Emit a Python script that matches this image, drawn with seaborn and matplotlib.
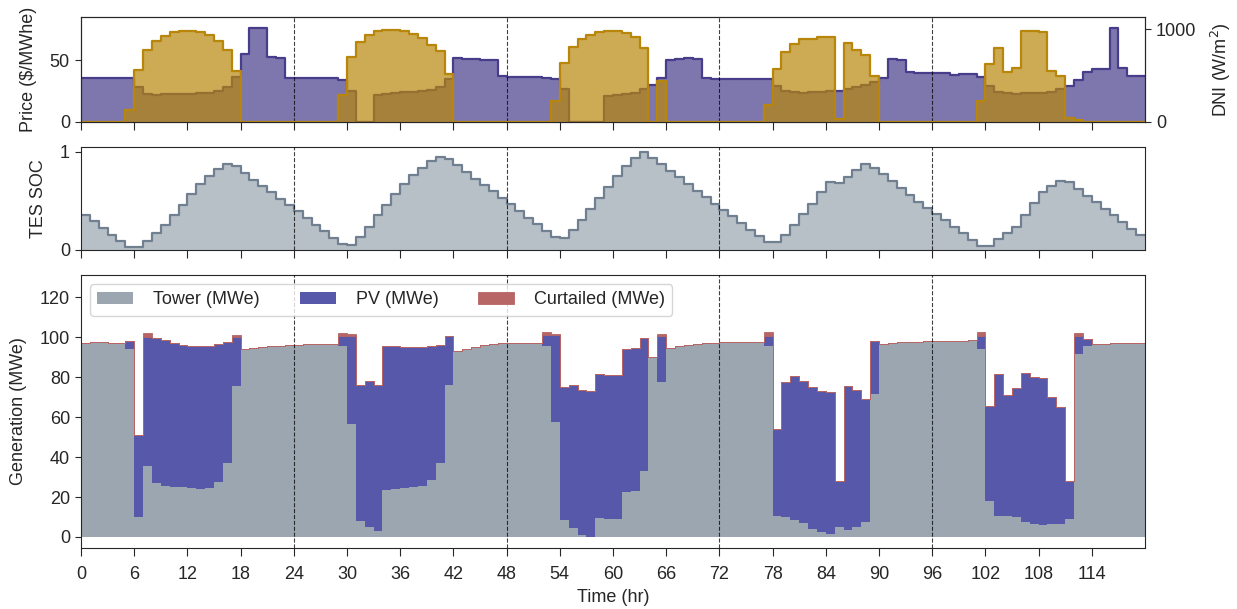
import numpy as np
import matplotlib
matplotlib.use('Agg')
import matplotlib.pyplot as plt
import seaborn as sns

# hourly values (120 h, one row = 12 h)
price = [
    36.0, 36.0, 36.0, 35.5, 35.5, 35.5, 28.5, 22.6, 21.8, 22.3, 22.6, 22.8,
    22.8, 23.1, 23.4, 25.0, 28.5, 36.3, 54.8, 76.0, 76.3, 52.7, 51.6, 35.7,
    35.7, 35.7, 35.7, 35.7, 35.7, 33.9, 25.3, 0.0, 0.0, 21.8, 22.6, 23.1,
    23.9, 24.5, 25.0, 26.0, 28.5, 35.2, 52.1, 51.3, 51.3, 50.0, 50.0, 37.1,
    36.8, 36.6, 36.6, 36.3, 35.5, 35.2, 27.1, 0.0, 0.0, 0.0, 0.0, 21.0,
    21.5, 22.3, 23.7, 26.3, 29.8, 35.7, 50.0, 51.3, 52.1, 50.8, 35.7, 34.7,
    34.7, 34.7, 34.7, 34.7, 34.7, 34.7, 29.3, 25.3, 23.9, 23.7, 24.2, 24.5,
    24.7, 25.0, 27.1, 28.5, 29.8, 32.5, 35.5, 51.3, 50.0, 40.6, 40.0, 39.8,
    39.8, 39.5, 37.9, 39.2, 39.2, 36.6, 29.3, 23.9, 23.1, 22.6, 23.1, 23.7,
    23.7, 24.5, 26.6, 29.3, 33.9, 40.6, 42.5, 42.5, 76.0, 44.0, 37.4, 37.4,
]

dni = [
    0, 0, 0, 0, 0, 128, 564, 770, 872, 929, 972, 982,
    982, 972, 940, 876, 777, 546, 0, 0, 0, 0, 0, 0,
    0, 0, 0, 0, 0, 294, 695, 862, 940, 979, 989, 993,
    982, 943, 908, 830, 766, 518, 0, 0, 0, 0, 0, 0,
    0, 0, 0, 0, 0, 223, 631, 812, 897, 936, 972, 982,
    982, 954, 915, 801, 0, 440, 0, 0, 0, 0, 0, 0,
    0, 0, 0, 0, 0, 188, 567, 755, 844, 897, 897, 915,
    915, 30, 855, 773, 720, 493, 0, 0, 0, 0, 0, 0,
    0, 0, 0, 0, 0, 230, 624, 794, 535, 582, 979, 979,
    968, 553, 500, 46, 21, 0, 0, 0, 0, 0, 0, 0,
]

soc = [
    0.362, 0.293, 0.225, 0.157, 0.096, 0.027, 0.027, 0.089, 0.171, 0.260, 0.362, 0.464,
    0.567, 0.669, 0.754, 0.826, 0.874, 0.860, 0.785, 0.717, 0.655, 0.587, 0.519, 0.461,
    0.396, 0.324, 0.260, 0.198, 0.123, 0.061, 0.051, 0.137, 0.239, 0.352, 0.461, 0.567,
    0.669, 0.761, 0.840, 0.908, 0.952, 0.932, 0.863, 0.795, 0.727, 0.666, 0.597, 0.529,
    0.471, 0.396, 0.328, 0.266, 0.198, 0.137, 0.123, 0.205, 0.307, 0.420, 0.532, 0.642,
    0.757, 0.859, 0.938, 1.000, 0.938, 0.880, 0.808, 0.742, 0.674, 0.605, 0.536, 0.474,
    0.412, 0.344, 0.275, 0.206, 0.141, 0.079, 0.086, 0.155, 0.251, 0.364, 0.474, 0.588,
    0.690, 0.680, 0.742, 0.818, 0.880, 0.835, 0.773, 0.704, 0.629, 0.560, 0.491, 0.430,
    0.371, 0.302, 0.234, 0.172, 0.103, 0.038, 0.045, 0.113, 0.175, 0.234, 0.361, 0.481,
    0.595, 0.656, 0.701, 0.690, 0.622, 0.553, 0.485, 0.423, 0.354, 0.285, 0.216, 0.155,
]

tower = [
    97.3, 97.8, 97.8, 97.3, 97.3, 94.0, 10.2, 35.5, 26.8, 25.5, 24.8, 24.8,
    24.7, 24.2, 24.7, 27.5, 36.8, 75.5, 94.0, 94.8, 95.0, 95.5, 95.8, 96.0,
    96.2, 96.5, 96.5, 96.5, 96.5, 95.5, 56.5, 7.8, 5.2, 3.0, 23.5, 23.8,
    24.3, 25.2, 25.7, 28.5, 37.2, 75.8, 92.8, 94.2, 95.2, 96.0, 96.7, 97.2,
    97.3, 97.3, 97.3, 97.3, 95.5, 57.7, 8.5, 4.3, 1.0, 0.0, 9.3, 8.8,
    9.0, 22.7, 23.2, 33.2, 89.8, 77.7, 94.8, 95.7, 96.3, 96.8, 97.2, 97.3,
    97.7, 97.7, 97.7, 97.7, 97.7, 95.7, 10.7, 10.2, 8.5, 6.8, 4.2, 2.3,
    1.3, 5.2, 3.5, 4.8, 7.7, 71.5, 96.8, 97.3, 97.5, 97.7, 97.8, 98.0,
    98.0, 98.2, 98.2, 98.2, 98.5, 94.2, 18.0, 10.7, 10.7, 9.8, 7.3, 6.3,
    5.8, 6.3, 6.3, 8.8, 91.5, 95.5, 96.5, 96.8, 97.2, 97.3, 97.3, 97.3,
]

pv = [
    0, 0, 0, 0, 0, 4.2, 40.8, 64.7, 73.0, 73.0, 72.5, 71.5,
    71.1, 71.6, 71.1, 69.0, 60.7, 24.7, 0, 0, 0, 0, 0, 0,
    0, 0, 0, 0, 0, 5.0, 44.0, 68.0, 72.8, 73.0, 72.3, 71.7,
    70.7, 69.8, 69.6, 67.3, 59.1, 24.9, 0, 0, 0, 0, 0, 0,
    0, 0, 0, 0, 5.5, 43.3, 66.7, 71.5, 72.5, 72.8, 72.2, 72.2,
    72.0, 71.6, 71.6, 66.5, 0, 23.0, 0, 0, 0, 0, 0, 0,
    0, 0, 0, 0, 0, 4.8, 43.5, 67.1, 72.0, 71.4, 70.6, 70.5,
    71.2, 22.6, 72.0, 68.5, 61.5, 26.7, 0, 0, 0, 0, 0, 0,
    0, 0, 0, 0, 0, 6.3, 47.5, 70.8, 60.5, 64.5, 74.5, 73.9,
    73.9, 63.5, 58.5, 19.0, 9.0, 3.7, 0, 0, 0, 0, 0, 0,
]

curtailed = [
    0, 0, 0, 0, 0, 0, 0, 2.0, 0, 0, 0, 0,
    0, 0, 0, 0, 0, 1.1, 0, 0, 0, 0, 0, 0,
    0, 0, 0, 0, 0, 1.7, 1.3, 0, 0, 0, 0, 0,
    0, 0, 0, 0, 0, 0, 0, 0, 0, 0, 0, 0,
    0, 0, 0, 0, 1.5, 0.8, 0, 0, 0, 0, 0, 0,
    0, 0, 0, 0, 0, 1.0, 0, 0, 0, 0, 0, 0,
    0, 0, 0, 0, 0, 2.0, 0, 0, 0, 0, 0, 0,
    0, 0, 0, 0, 0, 0, 0, 0, 0, 0, 0, 0,
    0, 0, 0, 0, 0, 2.2, 0, 0, 0, 0, 0, 0,
    0, 0, 0, 0, 1.7, 0, 0, 0, 0, 0, 0, 0,
]

day_marks = [24, 48, 72, 96]
xticks = list(range(0, 120, 6))

TOWER_C = '#9ba6b1'
PV_C = '#5858ab'
CURT_C = '#b76565'
FS = 13
LPAD = 9


def steps(v):
    v = np.asarray(v, dtype=float)
    return np.append(v, v[-1])


def step_area(ax, x, y, color, alpha):
    ax.fill_between(x, steps(y), step='post', color=color, alpha=alpha, lw=0)
    sns.lineplot(x=x, y=steps(y), ax=ax, color=color, lw=1.6,
                 drawstyle='steps-post')
    ax.set_xlabel(''); ax.set_ylabel('')


sns.set_style('ticks')
plt.rcParams['font.family'] = ['Liberation Sans', 'DejaVu Sans']
plt.rcParams['font.size'] = FS
plt.rcParams['xtick.major.size'] = 6
plt.rcParams['xtick.major.pad'] = 7
plt.rcParams['ytick.major.size'] = 4.5

hours = np.arange(121)
tw = np.asarray(tower)
tp = tw + np.asarray(pv)
tc = tp + np.asarray(curtailed)

fig = plt.figure(figsize=(12.37, 6.09), dpi=100)
ax1 = fig.add_axes([0.0655, 0.7997, 0.8601, 0.1724])
ax2 = fig.add_axes([0.0655, 0.5895, 0.8601, 0.1690])
ax3 = fig.add_axes([0.0655, 0.1002, 0.8601, 0.4480])

# price + DNI
step_area(ax1, hours, price, 'darkslateblue', 0.7)
ax1.set_ylim(0, 85); ax1.set_yticks([0, 50])
ax1.set_ylabel('Price ($/MWhe)', fontsize=FS, labelpad=LPAD)
ax1b = ax1.twinx()
step_area(ax1b, hours, dni, 'darkgoldenrod', 0.7)
ax1b.set_ylim(0, 1130); ax1b.set_yticks([0, 1000])
ax1b.set_ylabel('DNI (W/m$^2$)', fontsize=FS, labelpad=LPAD)

# storage state of charge
step_area(ax2, hours, soc, 'slategray', 0.5)
ax2.set_ylim(0, 1.05); ax2.set_yticks([0, 1])
ax2.set_ylabel('TES SOC', fontsize=FS, labelpad=LPAD)

# generation stack
ax3.fill_between(hours, 0, steps(tw), step='post', color=TOWER_C, lw=0,
                 label='Tower (MWe)')
ax3.fill_between(hours, steps(tw), steps(tp), step='post', color=PV_C, lw=0,
                 label='PV (MWe)')
ax3.fill_between(hours, steps(tp), steps(tc), step='post', color=CURT_C,
                 edgecolor=CURT_C, lw=0.6, label='Curtailed (MWe)')
ax3.set_ylim(-5.5, 131); ax3.set_yticks(range(0, 121, 20))
ax3.set_ylabel('Generation (MWe)', fontsize=FS, labelpad=LPAD)
ax3.set_xlabel('Time (hr)', fontsize=FS)
ax3.legend(loc='upper left', ncol=3, frameon=True, fontsize=FS,
           handletextpad=1.1, columnspacing=2.2)

for ax in (ax1, ax2, ax3):
    ax.set_xlim(0, 120)
    ax.set_xticks(xticks)
    for d in day_marks:
        ax.axvline(d, color='k', ls='--', lw=0.8, alpha=0.75, zorder=5)
    ax.tick_params(labelsize=FS)
ax1b.tick_params(labelsize=FS)
ax1.tick_params(labelbottom=False)
ax2.tick_params(labelbottom=False)

fig.savefig('out.png', dpi=100)
